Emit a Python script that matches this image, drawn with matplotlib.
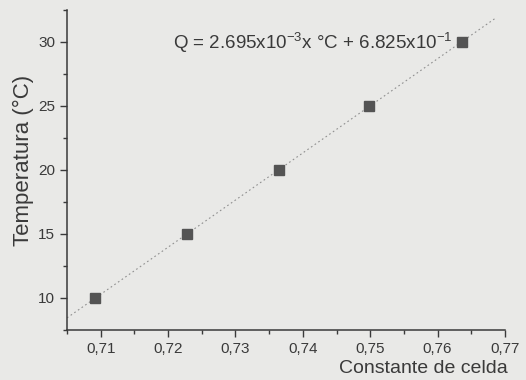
import numpy as np
import matplotlib
matplotlib.use("Agg")
import matplotlib.pyplot as plt
from matplotlib.ticker import MultipleLocator, FuncFormatter

# values
constante = [0.7092, 0.7228, 0.7365, 0.7498, 0.7636]
temperatura = [10, 15, 20, 25, 30]
ecuacion = r"Q = 2.695x10$^{-3}$x °C + 6.825x10$^{-1}$"

plt.rcParams["font.family"] = ["Liberation Sans", "DejaVu Sans"]
plt.rcParams["mathtext.default"] = "regular"

paper = "#e9e9e7"
ink = "#3a3a3a"

fig = plt.figure(figsize=(5.26, 3.80), dpi=100, facecolor=paper)
ax = fig.add_axes([0.1274, 0.1316, 0.8326, 0.8421], facecolor=paper)

# linear fit, x = a*T + b
a, b = np.polyfit(temperatura, constante, 1)
t_fit = np.array([(0.705 - b) / a, (0.7685 - b) / a])
ax.plot(a * t_fit + b, t_fit, linestyle=(0, (1.5, 2.5)), color="#909090", lw=0.8)

ax.plot(constante, temperatura, "s", color="#545454", markersize=6.5)

ax.set_xlim(0.705, 0.77)
ax.set_ylim(7.5, 32.5)
ax.xaxis.set_major_locator(MultipleLocator(0.01))
ax.xaxis.set_minor_locator(MultipleLocator(0.005))
ax.yaxis.set_major_locator(MultipleLocator(5))
ax.yaxis.set_minor_locator(MultipleLocator(2.5))
ax.xaxis.set_major_formatter(FuncFormatter(lambda v, p: f"{v:.2f}".replace(".", ",")))

for s in ["top", "right"]:
    ax.spines[s].set_visible(False)
for s in ["left", "bottom"]:
    ax.spines[s].set_color(ink)
    ax.spines[s].set_linewidth(1.1)

ax.tick_params(which="major", direction="out", length=5, width=1, color=ink,
               labelsize=11, labelcolor=ink)
ax.tick_params(which="minor", direction="out", length=3, width=1, color=ink)

ax.set_ylabel("Temperatura (°C)", fontsize=16, color=ink)
ax.yaxis.set_label_coords(-0.075, 0.53)
ax.set_xlabel("Constante de celda", fontsize=14, color=ink, loc="right")
ax.xaxis.set_label_coords(1.006, -0.095)

ax.text(0.7208, 29.9, ecuacion, fontsize=13.5, color=ink, va="center")

fig.savefig("out.png", dpi=100, facecolor=paper)
